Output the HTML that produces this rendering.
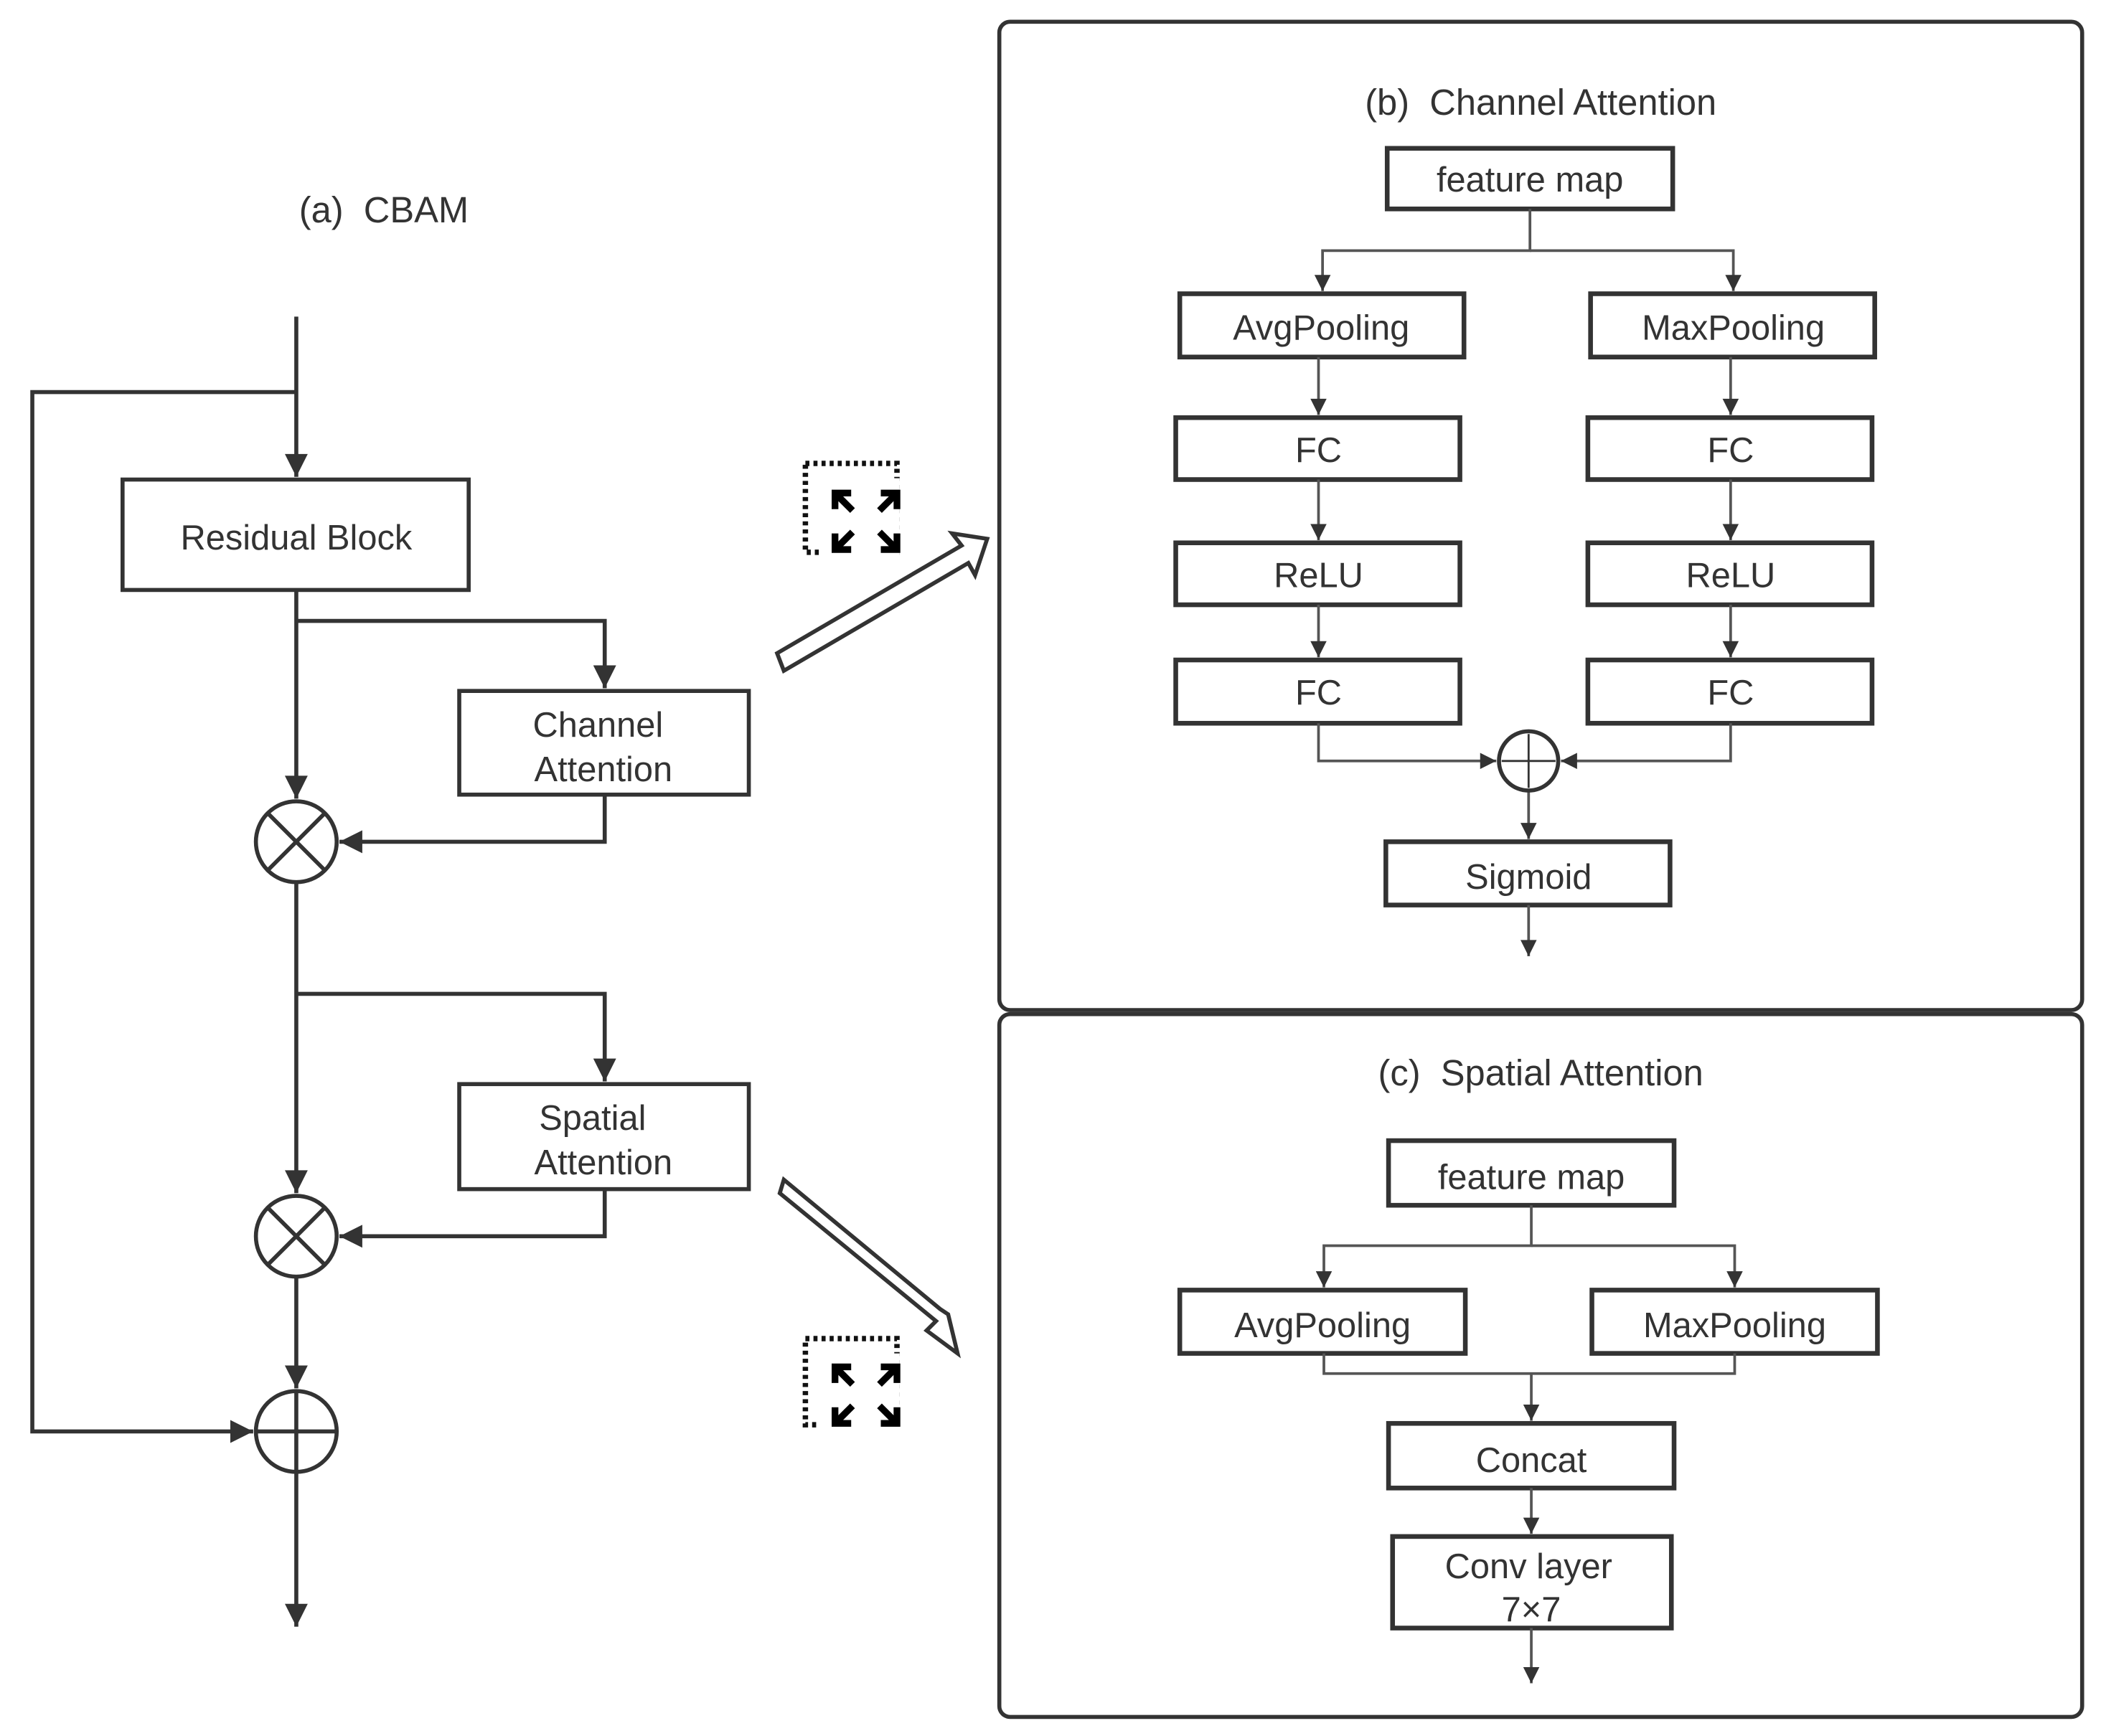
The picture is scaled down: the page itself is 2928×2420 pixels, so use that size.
<!DOCTYPE html>
<html><head><meta charset="utf-8"><style>html,body{margin:0;padding:0;background:#fff}svg{display:block}</style></head>
<body>
<svg width="2928" height="2420" viewBox="0 0 1560 1289" xmlns="http://www.w3.org/2000/svg" font-family="Liberation Sans, DejaVu Sans, sans-serif">
<defs>
<marker id="b" viewBox="0 0 10 10" markerWidth="24" markerHeight="17" refX="10" refY="5" orient="auto" markerUnits="userSpaceOnUse"><path d="M0,0 L10,5 L0,10 z" fill="#333"/></marker>
<marker id="s" viewBox="0 0 10 10" markerWidth="20" markerHeight="12" refX="10" refY="5" orient="auto" markerUnits="userSpaceOnUse"><path d="M0,0 L10,5 L0,10 z" fill="#333"/></marker>
</defs>
<g fill="#333" font-size="27" text-anchor="middle">
<text x="285" y="165" xml:space="preserve">(a)  CBAM</text>
<text x="1144" y="85" xml:space="preserve">(b)  Channel Attention</text>
<text x="1144" y="806" xml:space="preserve">(c)  Spatial Attention</text>
</g>
<!-- left diagram -->
<g stroke="#333" stroke-width="3" fill="none">
<line x1="220" y1="235" x2="220" y2="354" marker-end="url(#b)"/>
<polyline points="220,291 24,291 24,1063 188,1063" marker-end="url(#b)"/>
<rect x="91" y="356" width="257" height="82" fill="#fff"/>
<line x1="220" y1="438" x2="220" y2="593" marker-end="url(#b)"/>
<polyline points="220,461 449,461 449,511" marker-end="url(#b)"/>
<rect x="341" y="513" width="215" height="77"/>
<polyline points="449,590 449,625 252,625" marker-end="url(#b)"/>
<circle cx="220" cy="625" r="30"/>
<line x1="199" y1="604" x2="241" y2="646"/><line x1="241" y1="604" x2="199" y2="646"/>
<line x1="220" y1="655" x2="220" y2="886" marker-end="url(#b)"/>
<polyline points="220,738 449,738 449,803" marker-end="url(#b)"/>
<rect x="341" y="805" width="215" height="78"/>
<polyline points="449,883 449,918 252,918" marker-end="url(#b)"/>
<circle cx="220" cy="918" r="30"/>
<line x1="199" y1="897" x2="241" y2="939"/><line x1="241" y1="897" x2="199" y2="939"/>
<line x1="220" y1="948" x2="220" y2="1031" marker-end="url(#b)"/>
<circle cx="220" cy="1063" r="30"/>
<line x1="190" y1="1063" x2="250" y2="1063"/><line x1="220" y1="1033" x2="220" y2="1093"/>
<line x1="220" y1="1093" x2="220" y2="1208" marker-end="url(#b)"/>
</g>
<g fill="#333" font-size="26" text-anchor="middle">
<text x="220" y="408">Residual Block</text>
<text x="444" y="547">Channel</text><text x="448" y="580">Attention</text>
<text x="440" y="839">Spatial</text><text x="448" y="872">Attention</text>
</g>
<!-- hollow arrows -->
<g stroke="#333" stroke-width="3" fill="#fff" stroke-linejoin="miter">
<path d="M577,485 L714,405 L707,396 L733,400 L724,427 L719,418 L582,498 Z"/>
<path d="M584,876 L700,971 L693,978 L716,995 L709,966 L703,962 L587,866 Z" transform="translate(-5,10)"/>
</g>
<!-- icons -->
<g>
<rect x="598" y="344" width="68" height="66" fill="none" stroke="#111" stroke-width="4" stroke-dasharray="3,3"/>
<rect x="608" y="355" width="60" height="62" fill="#fff"/>
<g stroke="#000" stroke-width="5" fill="none">
<polyline points="620,378 620,366 632,366"/><line x1="620" y1="366" x2="633" y2="379"/>
<polyline points="654,366 666,366 666,378"/><line x1="666" y1="366" x2="653" y2="379"/>
<polyline points="620,396 620,408 632,408"/><line x1="620" y1="408" x2="633" y2="395"/>
<polyline points="654,408 666,408 666,396"/><line x1="666" y1="408" x2="653" y2="395"/>
</g>
<rect x="598" y="994" width="68" height="64" fill="none" stroke="#111" stroke-width="4" stroke-dasharray="3,3"/>
<rect x="608" y="1005" width="60" height="60" fill="#fff"/>
<g stroke="#000" stroke-width="5" fill="none">
<polyline points="620,1027 620,1015 632,1015"/><line x1="620" y1="1015" x2="633" y2="1028"/>
<polyline points="654,1015 666,1015 666,1027"/><line x1="666" y1="1015" x2="653" y2="1028"/>
<polyline points="620,1045 620,1057 632,1057"/><line x1="620" y1="1057" x2="633" y2="1044"/>
<polyline points="654,1057 666,1057 666,1045"/><line x1="666" y1="1057" x2="653" y2="1044"/>
</g>
</g>
<!-- panels -->
<g fill="none" stroke="#333" stroke-width="3">
<rect x="742" y="16" width="804" height="734" rx="8"/>
<rect x="742" y="753" width="804" height="522" rx="8"/>
</g>
<g stroke="#333" stroke-width="3.5" fill="#fff">
<rect x="1030" y="110" width="212" height="45"/>
<rect x="876" y="218" width="211" height="47"/><rect x="1181" y="218" width="211" height="47"/>
<rect x="873" y="310" width="211" height="46"/><rect x="1179" y="310" width="211" height="46"/>
<rect x="873" y="403" width="211" height="46"/><rect x="1179" y="403" width="211" height="46"/>
<rect x="873" y="490" width="211" height="47"/><rect x="1179" y="490" width="211" height="47"/>
<rect x="1029" y="625" width="211" height="47"/>
<rect x="1031" y="847" width="212" height="48"/>
<rect x="876" y="958" width="212" height="47"/><rect x="1182" y="958" width="212" height="47"/>
<rect x="1031" y="1057" width="212" height="48"/>
<rect x="1034" y="1141" width="207" height="68"/>
</g>
<g stroke="#555" stroke-width="2" fill="none">
<polyline points="1136,155 1136,186 982,186 982,216" marker-end="url(#s)"/>
<polyline points="1136,186 1287,186 1287,216" marker-end="url(#s)"/>
<line x1="979" y1="265" x2="979" y2="308" marker-end="url(#s)"/>
<line x1="1285" y1="265" x2="1285" y2="308" marker-end="url(#s)"/>
<line x1="979" y1="356" x2="979" y2="401" marker-end="url(#s)"/>
<line x1="1285" y1="356" x2="1285" y2="401" marker-end="url(#s)"/>
<line x1="979" y1="449" x2="979" y2="488" marker-end="url(#s)"/>
<line x1="1285" y1="449" x2="1285" y2="488" marker-end="url(#s)"/>
<polyline points="979,537 979,565 1111,565" marker-end="url(#s)"/>
<polyline points="1285,537 1285,565 1159,565" marker-end="url(#s)"/>
<line x1="1135" y1="587" x2="1135" y2="623" marker-end="url(#s)"/>
<line x1="1135" y1="672" x2="1135" y2="710" marker-end="url(#s)"/>
<polyline points="1137,895 1137,925 983,925 983,956" marker-end="url(#s)"/>
<polyline points="1137,925 1288,925 1288,956" marker-end="url(#s)"/>
<polyline points="983,1005 983,1020 1288,1020 1288,1005"/>
<line x1="1137" y1="1020" x2="1137" y2="1055" marker-end="url(#s)"/>
<line x1="1137" y1="1105" x2="1137" y2="1139" marker-end="url(#s)"/>
<line x1="1137" y1="1209" x2="1137" y2="1250" marker-end="url(#s)"/>
</g>
<g stroke="#333" stroke-width="3" fill="#fff">
<circle cx="1135" cy="565" r="22"/>
</g>
<g stroke="#333" stroke-width="1.5"><line x1="1115" y1="565" x2="1155" y2="565"/><line x1="1135" y1="545" x2="1135" y2="585"/></g>
<g fill="#333" font-size="26" text-anchor="middle">
<text x="1136" y="142">feature map</text>
<text x="981" y="252">AvgPooling</text><text x="1287" y="252">MaxPooling</text>
<text x="979" y="343">FC</text><text x="1285" y="343">FC</text>
<text x="979" y="436">ReLU</text><text x="1285" y="436">ReLU</text>
<text x="979" y="523">FC</text><text x="1285" y="523">FC</text>
<text x="1135" y="660">Sigmoid</text>
<text x="1137" y="883">feature map</text>
<text x="982" y="993">AvgPooling</text><text x="1288" y="993">MaxPooling</text>
<text x="1137" y="1093">Concat</text>
<text x="1135" y="1172">Conv layer</text>
<text x="1137" y="1204">7×7</text>
</g>
</svg>
</body></html>
